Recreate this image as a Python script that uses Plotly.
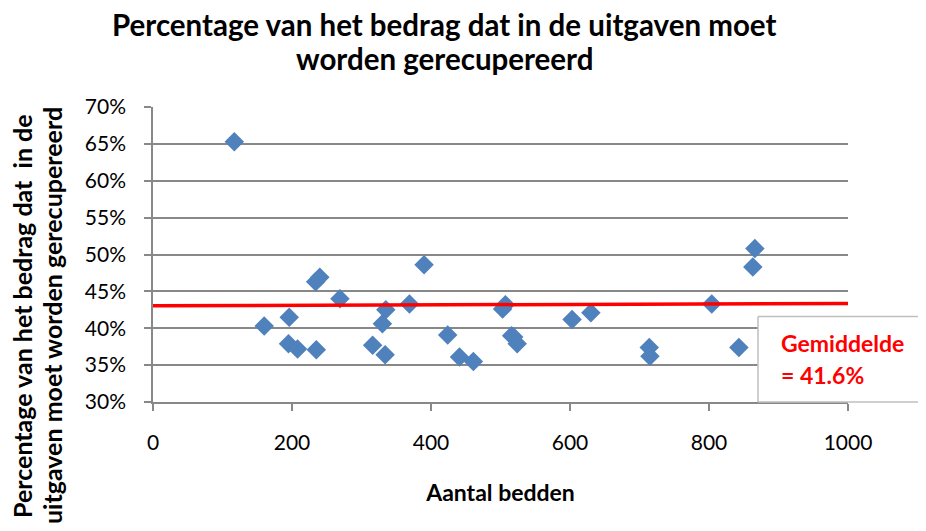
import plotly.graph_objects as go

# Data
beds = [117, 160, 196, 195, 208, 235, 234, 240, 269, 316, 334, 330, 335, 369, 390,
        424, 441, 461, 503, 507, 516, 519, 524, 603, 630, 714, 715, 804, 843, 866, 863]
pct = [65.3, 40.3, 41.5, 37.9, 37.2, 37.1, 46.3, 46.9, 44.0, 37.7, 36.4, 40.6, 42.5,
       43.3, 48.6, 39.1, 36.1, 35.5, 42.6, 43.2, 39.0, 38.8, 37.9, 41.2, 42.1, 37.4,
       36.2, 43.3, 37.4, 50.8, 48.3]
trend_x = [0, 1000]
trend_y = [43.05, 43.35]
x_ticks = [0, 200, 400, 600, 800, 1000]
y_ticks = [30, 35, 40, 45, 50, 55, 60, 65, 70]
y_tick_labels = ["30%", "35%", "40%", "45%", "50%", "55%", "60%", "65%", "70%"]

title_lines = ["Percentage van het bedrag dat in de uitgaven moet", "worden gerecupereerd"]
y_title_lines = ["Percentage van het bedrag dat  in de", "uitgaven moet worden gerecupereerd"]
x_title = "Aantal bedden"
avg_lines = ["Gemiddelde", "= 41.6%"]

FONT = "Lato, Carlito, 'Open Sans', sans-serif"
GRID = "#888888"
BOX = "#BFBFBF"

fig = go.Figure()
fig.add_trace(go.Scatter(
    x=beds, y=pct, mode="markers",
    marker=dict(symbol="diamond", size=15, color="#4F81BD"),
    showlegend=False, hoverinfo="x+y"))
fig.add_trace(go.Scatter(
    x=trend_x, y=trend_y, mode="lines",
    line=dict(color="#FF0000", width=3.5),
    showlegend=False, hoverinfo="skip"))

fig.update_layout(
    width=910, height=515,
    margin=dict(l=145, r=70, t=99, b=121),
    paper_bgcolor="white", plot_bgcolor="white",
    font=dict(family=FONT, size=21, color="#000000"),
    xaxis=dict(range=[0, 1000], tickvals=x_ticks, showgrid=False, zeroline=False,
               showline=True, linecolor=GRID, linewidth=1.5,
               ticks="outside", ticklen=7, tickcolor=GRID, tickwidth=1.5,
               ticklabelstandoff=14,
               tickfont=dict(family=FONT, size=21),
               title=dict(text="<b>" + x_title + "</b>", standoff=32,
                          font=dict(family=FONT, size=23))),
    yaxis=dict(range=[30, 70], tickvals=y_ticks, ticktext=y_tick_labels,
               showgrid=True, gridcolor=GRID, gridwidth=1.5, zeroline=False,
               showline=True, linecolor=GRID, linewidth=1.5,
               ticks="outside", ticklen=7, tickcolor=GRID, tickwidth=1.5,
               ticklabelstandoff=14,
               tickfont=dict(family=FONT, size=21)),
)

# chart title (two lines)
for txt, yp in zip(title_lines, [1.281, 1.166]):
    fig.add_annotation(text="<b>" + txt + "</b>", xref="paper", yref="paper",
                       x=0.419, y=yp, xanchor="center", yanchor="middle",
                       showarrow=False,
                       font=dict(family=FONT, size=29.5, color="#000000"))

# y-axis title (two lines, rotated)
for txt, xp in zip(y_title_lines, [-0.1885, -0.1453]):
    fig.add_annotation(text="<b>" + txt + "</b>", xref="paper", yref="paper",
                       x=xp, y=0.2915, xanchor="center", yanchor="middle",
                       textangle=-90, showarrow=False,
                       font=dict(family=FONT, size=25, color="#000000"))

# average box (open on the right, running off the edge)
bx0, bx1, by0, by1 = 0.8705, 1.2, 0.0, 0.29
fig.add_shape(type="rect", xref="paper", yref="paper", layer="above",
              x0=bx0, x1=bx1, y0=by0, y1=by1,
              fillcolor="white", line=dict(width=0))
for (xa, ya, xb, yb) in [(bx0, by0, bx0, by1), (bx0, by1, bx1, by1), (bx0, by0, bx1, by0)]:
    fig.add_shape(type="line", xref="paper", yref="paper", layer="above",
                  x0=xa, y0=ya, x1=xb, y1=yb, line=dict(color=BOX, width=1.5))
for txt, yp in zip(avg_lines, [0.2, 0.0915]):
    fig.add_annotation(text="<b>" + txt + "</b>", xref="paper", yref="paper",
                       x=0.9, y=yp, xanchor="left", yanchor="middle", align="left",
                       showarrow=False,
                       font=dict(family=FONT, size=23, color="#FF0000"))

fig.write_html("out.html")
